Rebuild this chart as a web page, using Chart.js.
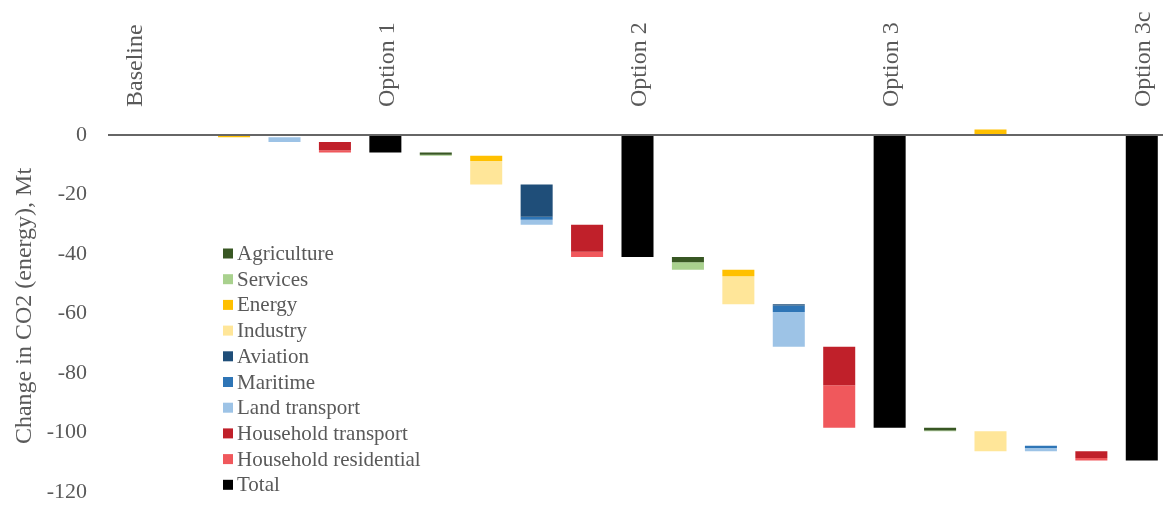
<!DOCTYPE html>
<html>
<head>
<meta charset="utf-8">
<title>Change in CO2 (energy) by option</title>
<script src="https://cdn.jsdelivr.net/npm/chart.js@4/dist/chart.umd.min.js"></script>
<style>
  html, body { margin: 0; padding: 0; background: #ffffff; overflow: hidden; }
  #wrap { width: 1167px; height: 508px; }
</style>
</head>
<body>
<div id="wrap"><canvas id="chart" width="1167" height="508"></canvas></div>
<script>
// Steps of the waterfall: option totals, with the sector steps in between left unlabeled
const categories = [
  'Baseline', '', '', '', '',
  'Option 1', '', '', '', '',
  'Option 2', '', '', '', '',
  'Option 3', '', '', '', '',
  'Option 3c'
];

// Change in CO2 (Mt) contributed by each sector at each step (null = no bar)
const agriculture          = [null,null,null,null,null, null,-0.8,null,null,null, null,-1.8,null,null,null, null,-0.9,null,null,null, null];
const services             = [null,null,null,null,null, null,-0.3,null,null,null, null,-2.5,null,null,null, null,-0.3,null,null,null, null];
const energy               = [null,null,-0.8,null,null, null,null,-1.8,null,null, null,null,-2.2,null,null, null,null, 1.8,null,null, null];
const industry             = [null,null,null,null,null, null,null,-7.9,null,null, null,null,-9.4,null,null, null,null,-6.7,null,null, null];
const aviation             = [null,null,null,null,null, null,null,null,-10.8,null, null,null,null,-0.4,null, null,null,null,null,null, null];
const maritime             = [null,null,null,null,null, null,null,null,-1.0,null, null,null,null,-2.2,null, null,null,null,-0.7,null, null];
const landTransport        = [null,null,null,-1.6,null, null,null,null,-1.7,null, null,null,null,-11.7,null, null,null,null,-1.1,null, null];
const householdTransport   = [null,null,null,null,-2.8, null,null,null,null,-9.1, null,null,null,null,-12.9, null,null,null,null,-2.3, null];
const householdResidential = [null,null,null,null,-0.7, null,null,null,null,-1.7, null,null,null,null,-14.3, null,null,null,null,-0.8, null];

// Cumulative change at each option
const totals = [0,null,null,null,null, -5.9,null,null,null,null, -41.0,null,null,null,null, -98.4,null,null,null,null, -109.4];

const sectors = [
  { label: 'Agriculture',           values: agriculture,          color: '#385723' },
  { label: 'Services',              values: services,             color: '#A9D18E' },
  { label: 'Energy',                values: energy,               color: '#FFC000' },
  { label: 'Industry',              values: industry,             color: '#FFE699' },
  { label: 'Aviation',              values: aviation,             color: '#1F4E79' },
  { label: 'Maritime',              values: maritime,             color: '#2E75B6' },
  { label: 'Land transport',        values: landTransport,        color: '#9DC3E6' },
  { label: 'Household transport',   values: householdTransport,   color: '#C0202A' },
  { label: 'Household residential', values: householdResidential, color: '#F0585C' }
];

// Build floating [from, to] ranges: decreases hang below the running level,
// increases stand on the zero line.
const ranges = sectors.map(() => new Array(categories.length).fill(null));
const totalRanges = new Array(categories.length).fill(null);
let level = 0;
for (let i = 0; i < categories.length; i++) {
  if (totals[i] !== null) {
    level = totals[i];
    totalRanges[i] = totals[i] === 0 ? null : [0, totals[i]];
    continue;
  }
  let down = level;
  let up = 0;
  sectors.forEach((s, k) => {
    const v = s.values[i];
    if (v === null) return;
    if (v < 0) { ranges[k][i] = [down, down + v]; down += v; }
    else { ranges[k][i] = [up, up + v]; up += v; }
    level += v;
  });
}

const datasets = sectors.map((s, k) => ({
  label: s.label,
  data: ranges[k],
  backgroundColor: s.color,
  borderWidth: 0,
  grouped: false,
  barPercentage: 0.635,
  categoryPercentage: 1.0
}));
datasets.push({
  label: 'Total',
  data: totalRanges,
  backgroundColor: '#000000',
  borderWidth: 0,
  grouped: false,
  barPercentage: 0.635,
  categoryPercentage: 1.0
});

const SERIF = "'Liberation Serif', 'Times New Roman', serif";
const TEXT = '#595959';

// Legend drawn inside the plot area as a vertical list
const insideLegend = {
  id: 'insideLegend',
  afterDraw(chart) {
    const ctx = chart.ctx;
    const x0 = 223, y0 = 253.5, rowH = 25.7, box = 10;
    ctx.save();
    ctx.font = '21px ' + SERIF;
    ctx.textBaseline = 'middle';
    ctx.textAlign = 'left';
    chart.data.datasets.forEach((ds, k) => {
      const y = y0 + k * rowH;
      ctx.fillStyle = ds.backgroundColor;
      ctx.fillRect(x0, y - box / 2, box, box);
      ctx.fillStyle = TEXT;
      ctx.fillText(ds.label, x0 + 14, y + 1);
    });
    ctx.restore();
  }
};

new Chart(document.getElementById('chart'), {
  type: 'bar',
  data: { labels: categories, datasets },
  options: {
    responsive: false,
    animation: false,
    devicePixelRatio: 1,
    layout: { padding: { top: 0, right: 0, bottom: 16, left: 0 } },
    plugins: {
      legend: { display: false },
      tooltip: { enabled: false }
    },
    scales: {
      x: {
        position: 'top',
        grid: { display: false },
        border: { display: false },
        ticks: {
          autoSkip: false,
          minRotation: 90,
          maxRotation: 90,
          padding: 5,
          labelOffset: 31,
          color: TEXT,
          font: { family: SERIF, size: 24 }
        },
        afterFit(scale) { scale.height = 120; }
      },
      y: {
        min: -120,
        max: 5,
        grid: {
          drawTicks: false,
          color: c => (c.tick && c.tick.value === 0 ? '#666666' : 'rgba(0,0,0,0)'),
          lineWidth: 2
        },
        border: { display: false },
        ticks: {
          stepSize: 20,
          includeBounds: false,
          padding: 21,
          color: TEXT,
          font: { family: SERIF, size: 22 },
          callback: v => (v > 0 ? '' : String(v))
        },
        title: {
          display: true,
          text: 'Change in CO2 (energy), Mt',
          color: TEXT,
          font: { family: SERIF, size: 24 },
          padding: { top: 10, bottom: 0 }
        },
        afterFit(scale) {
          scale.width = 108;
          scale.paddingTop = 0;
          scale.paddingBottom = 0;
        }
      }
    }
  },
  plugins: [insideLegend]
});
</script>
</body>
</html>
